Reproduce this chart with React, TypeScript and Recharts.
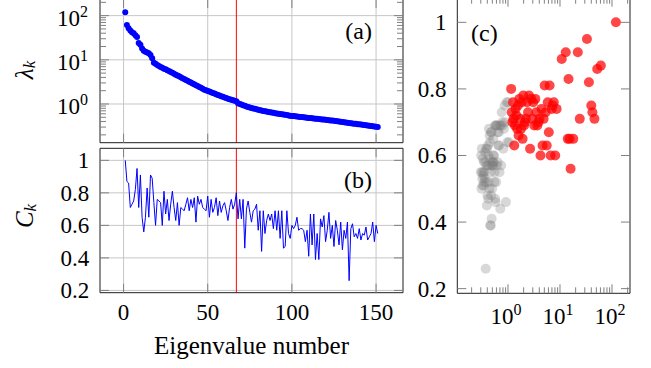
import React from "react";
import {
  ComposedChart,
  ScatterChart,
  Scatter,
  Line,
  XAxis,
  YAxis,
  CartesianGrid,
  ReferenceLine,
} from "recharts";

// ---------------- data ----------------
const lambdaValues: number[] = [
  119, 61, 52, 46, 42, 40, 36, 33, 24, 22,
  18, 16, 15.3, 14.6, 14.1, 12.9, 10.8, 8.6, 8.1, 7.6,
  7.24, 6.92, 6.61, 6.31, 6.1, 5.82, 5.56, 5.31, 5.07, 4.84,
  4.62, 4.42, 4.22, 4.03, 3.85, 3.67, 3.51, 3.35, 3.2, 3.05,
  2.92, 2.79, 2.66, 2.54, 2.43, 2.32, 2.21, 2.11, 2.04, 1.97,
  1.91, 1.84, 1.78, 1.72, 1.66, 1.6, 1.55, 1.5, 1.45, 1.4,
  1.36, 1.32, 1.28, 1.25, 1.21, 1.18, 1.15, 1.04, 1.0, 0.97,
  0.94, 0.91, 0.88, 0.86, 0.835, 0.815, 0.795, 0.776, 0.758, 0.74,
  0.724, 0.711, 0.698, 0.686, 0.673, 0.661, 0.65, 0.64, 0.63, 0.619,
  0.61, 0.6, 0.592, 0.583, 0.575, 0.568, 0.56, 0.552, 0.545, 0.537,
  0.532, 0.526, 0.521, 0.516, 0.51, 0.505, 0.5, 0.495, 0.49, 0.485,
  0.48, 0.475, 0.47, 0.466, 0.461, 0.456, 0.452, 0.447, 0.443, 0.438,
  0.434, 0.43, 0.425, 0.421, 0.417, 0.412, 0.407, 0.402, 0.397, 0.392,
  0.387, 0.382, 0.378, 0.373, 0.368, 0.364, 0.359, 0.355, 0.35, 0.346,
  0.342, 0.337, 0.333, 0.329, 0.325, 0.321, 0.317, 0.313, 0.309, 0.305,
  0.301,
];

const cValues: number[] = [
  1.0, 0.87, 0.86, 0.71, 0.73, 0.75, 0.82, 0.95, 0.71, 0.91,
  0.65, 0.56, 0.65, 0.83, 0.65, 0.91, 0.89, 0.74, 0.6, 0.76,
  0.75, 0.74, 0.6, 0.81, 0.67, 0.76, 0.63, 0.73, 0.81, 0.71,
  0.63, 0.74, 0.6, 0.71, 0.7, 0.69, 0.73, 0.77, 0.69, 0.76,
  0.71, 0.77, 0.62, 0.78, 0.73, 0.76, 0.71, 0.7, 0.69, 0.78,
  0.65, 0.76, 0.68, 0.71, 0.77, 0.66, 0.75, 0.68, 0.72, 0.74,
  0.69, 0.63, 0.71, 0.76, 0.7, 0.73, 0.8, 0.64, 0.76, 0.64,
  0.76, 0.46, 0.7, 0.75, 0.68, 0.62, 0.69, 0.7, 0.73, 0.57,
  0.69, 0.44, 0.69, 0.55, 0.63, 0.67, 0.63, 0.67, 0.58, 0.69,
  0.57, 0.69, 0.52, 0.69, 0.46, 0.47, 0.69, 0.55, 0.52, 0.6,
  0.58, 0.6, 0.65, 0.57, 0.58, 0.58, 0.57, 0.5, 0.57, 0.41,
  0.67, 0.48, 0.67, 0.39, 0.55, 0.39, 0.64, 0.59, 0.66, 0.5,
  0.57, 0.68, 0.52, 0.6, 0.47, 0.63, 0.57, 0.48, 0.62, 0.45,
  0.57, 0.52, 0.62, 0.26, 0.58, 0.61, 0.53, 0.55, 0.52, 0.58,
  0.51, 0.55, 0.54, 0.59, 0.51, 0.53, 0.55, 0.62, 0.5, 0.6,
  0.55,
];

const RED_LINE_K = 67;

const kTicks = [0, 50, 100, 150];
const kTickLabels = ["0", "50", "100", "150"];
const cTicks = [0.2, 0.4, 0.6, 0.8, 1];
const cTickLabels = ["0.2", "0.4", "0.6", "0.8", "1"];
const logMajorTicks = [1, 10, 100];
const logMajorExponents = ["0", "1", "2"];
const logMinorTicks = [
  0.2, 0.3, 0.4, 0.5, 0.6, 0.7, 0.8, 0.9,
  2, 3, 4, 5, 6, 7, 8, 9,
  20, 30, 40, 50, 60, 70, 80, 90,
  200,
];
const logAllTicks = [...logMinorTicks, ...logMajorTicks].sort((a, b) => a - b);

const rows = lambdaValues.map((lam, i) => ({ k: i + 1, lambda: lam, c: cValues[i] }));
const redRows = rows.filter((r) => r.k <= RED_LINE_K);
const grayRows = rows.filter((r) => r.k > RED_LINE_K);

// ---------------- styles ----------------
const FONT = "'Liberation Serif', 'DejaVu Serif', serif";
const FRAME = "#1e1e1e";
const GRID = "#c6c6c6";
const TICK = "#808080";
const MAJOR_LEN = 9;
const MINOR_LEN = 6;
const TICK_FS = 23;
const SUP_FS = 16;
const TXT = { fontFamily: FONT };

const K_DOMAIN: [number, number] = [-14, 166];
const LAMBDA_DOMAIN_A: [number, number] = [0.133, 238];
const C_DOMAIN: [number, number] = [0.186, 1.074];
const LAMBDA_DOMAIN_C: [number, number] = [0.106, 222];

type Side = "left" | "right" | "top" | "bottom";

function mark(side: Side, x: number, y: number, len: number) {
  let x1 = x, x2 = x, y1 = y, y2 = y;
  if (side === "left") x2 = x + len;
  if (side === "right") x1 = x - len;
  if (side === "top") y2 = y + len;
  if (side === "bottom") y1 = y - len;
  return <line x1={x1} y1={y1} x2={x2} y2={y2} stroke={TICK} strokeWidth={1} />;
}

const markTick = (side: Side, majors: number[] | null) => (p: any) => {
  const v = p.payload.value;
  const major = !majors || majors.includes(v);
  return <g>{mark(side, p.x, p.y, major ? MAJOR_LEN : MINOR_LEN)}</g>;
};

const logLeftTickA = (p: any) => {
  const v = p.payload.value;
  const idx = logMajorTicks.indexOf(v);
  const major = idx >= 0;
  return (
    <g>
      {mark("left", p.x, p.y, major ? MAJOR_LEN : MINOR_LEN)}
      {major && (
        <text x={p.x - 12} y={p.y + 10} textAnchor="end" style={TXT} fontSize={TICK_FS} fill="#000">
          10
          <tspan dy={-9} fontSize={SUP_FS}>{logMajorExponents[idx]}</tspan>
        </text>
      )}
    </g>
  );
};

const logBottomTickC = (p: any) => {
  const v = p.payload.value;
  const idx = logMajorTicks.indexOf(v);
  const major = idx >= 0;
  return (
    <g>
      {mark("bottom", p.x, p.y, major ? MAJOR_LEN : MINOR_LEN)}
      {major && (
        <text x={p.x - 2} y={p.y + 31} textAnchor="middle" style={TXT} fontSize={TICK_FS} fill="#000">
          10
          <tspan dy={-9} fontSize={SUP_FS}>{logMajorExponents[idx]}</tspan>
        </text>
      )}
    </g>
  );
};

const cLeftTick = (p: any) => {
  const idx = cTicks.indexOf(p.payload.value);
  return (
    <g>
      {mark("left", p.x, p.y, MAJOR_LEN)}
      <text x={p.x - 10.7} y={p.y + 8} textAnchor="end" style={TXT} fontSize={TICK_FS} fill="#000">
        {cTickLabels[idx]}
      </text>
    </g>
  );
};

const kBottomTick = (p: any) => {
  const idx = kTicks.indexOf(p.payload.value);
  return (
    <g>
      {mark("bottom", p.x, p.y, MAJOR_LEN)}
      <text x={p.x} y={p.y + 27.3} textAnchor="middle" style={TXT} fontSize={TICK_FS} fill="#000">
        {kTickLabels[idx]}
      </text>
    </g>
  );
};

const blueDot = (p: any) => <circle cx={p.cx} cy={p.cy} r={3} fill="#0000ff" />;
const redDot = (p: any) => <circle cx={p.cx} cy={p.cy} r={5} fill="#ff0000" fillOpacity={0.72} />;
const grayDot = (p: any) => <circle cx={p.cx} cy={p.cy} r={5} fill="#7f7f7f" fillOpacity={0.3} />;

const axisCommon = {
  allowDataOverflow: true,
  interval: 0 as const,
  tickSize: 0,
  tickMargin: 0,
  tickLine: false,
  axisLine: { stroke: FRAME, strokeWidth: 1 },
};

function PanelA() {
  return (
    <div style={{ position: "absolute", left: 0, top: -20, width: 430, height: 180 }}>
      <ComposedChart width={430} height={180} data={rows} margin={{ top: 18, right: 26, bottom: 16.3, left: 99 }}>
        <CartesianGrid xAxisId="x" yAxisId="y" stroke={GRID} strokeWidth={1} verticalValues={kTicks} horizontalValues={logMajorTicks} />
        <XAxis xAxisId="x" dataKey="k" type="number" domain={K_DOMAIN} ticks={kTicks} height={1} tick={markTick("bottom", null)} {...axisCommon} />
        <XAxis xAxisId="xt" orientation="top" dataKey="k" type="number" domain={K_DOMAIN} ticks={kTicks} height={1} tick={markTick("top", null)} {...axisCommon} />
        <YAxis yAxisId="y" type="number" scale="log" domain={LAMBDA_DOMAIN_A} ticks={logAllTicks} width={1} tick={logLeftTickA} {...axisCommon} />
        <YAxis yAxisId="yr" orientation="right" type="number" scale="log" domain={LAMBDA_DOMAIN_A} ticks={logAllTicks} width={1} tick={markTick("right", logMajorTicks)} {...axisCommon} />
        <ReferenceLine xAxisId="x" yAxisId="y" x={RED_LINE_K} stroke="#ff0000" strokeWidth={1} />
        <Scatter xAxisId="x" yAxisId="y" dataKey="lambda" shape={blueDot} isAnimationActive={false} />
      </ComposedChart>
    </div>
  );
}

function PanelB() {
  return (
    <div style={{ position: "absolute", left: 0, top: 130, width: 430, height: 238 }}>
      <ComposedChart width={430} height={238} data={rows} margin={{ top: 17.3, right: 26, bottom: 74.3, left: 99 }}>
        <CartesianGrid xAxisId="x" yAxisId="y" stroke={GRID} strokeWidth={1} verticalValues={kTicks} horizontalValues={cTicks} />
        <XAxis xAxisId="x" dataKey="k" type="number" domain={K_DOMAIN} ticks={kTicks} height={1} tick={kBottomTick} {...axisCommon} />
        <XAxis xAxisId="xt" orientation="top" dataKey="k" type="number" domain={K_DOMAIN} ticks={kTicks} height={1} tick={markTick("top", null)} {...axisCommon} />
        <YAxis yAxisId="y" type="number" domain={C_DOMAIN} ticks={cTicks} width={1} tick={cLeftTick} {...axisCommon} />
        <YAxis yAxisId="yr" orientation="right" type="number" domain={C_DOMAIN} ticks={cTicks} width={1} tick={markTick("right", null)} {...axisCommon} />
        <ReferenceLine xAxisId="x" yAxisId="y" x={RED_LINE_K} stroke="#ff0000" strokeWidth={1} />
        <Line xAxisId="x" yAxisId="y" type="linear" dataKey="c" stroke="#0000ff" strokeWidth={1} dot={false} isAnimationActive={false} />
      </ComposedChart>
    </div>
  );
}

function PanelC() {
  return (
    <div style={{ position: "absolute", left: 410, top: -10, width: 241, height: 378 }}>
      <ScatterChart width={241} height={378} margin={{ top: 6.7, right: 20, bottom: 73.7, left: 46.3 }}>
        <XAxis xAxisId="x" dataKey="lambda" type="number" scale="log" domain={LAMBDA_DOMAIN_C} ticks={logAllTicks} height={1} tick={logBottomTickC} {...axisCommon} />
        <XAxis xAxisId="xt" orientation="top" dataKey="lambda" type="number" scale="log" domain={LAMBDA_DOMAIN_C} ticks={logAllTicks} height={1} tick={markTick("top", logMajorTicks)} {...axisCommon} />
        <YAxis yAxisId="y" dataKey="c" type="number" domain={C_DOMAIN} ticks={cTicks} width={1} tick={cLeftTick} {...axisCommon} />
        <YAxis yAxisId="yr" orientation="right" dataKey="c" type="number" domain={C_DOMAIN} ticks={cTicks} width={1} tick={markTick("right", null)} {...axisCommon} />
        <Scatter xAxisId="x" yAxisId="y" data={grayRows} shape={grayDot} isAnimationActive={false} />
        <Scatter xAxisId="x" yAxisId="y" data={redRows} shape={redDot} isAnimationActive={false} />
      </ScatterChart>
    </div>
  );
}

function Labels() {
  return (
    <svg width={651} height={368} style={{ position: "absolute", left: 0, top: 0, pointerEvents: "none" }}>
      <g style={TXT} fill="#000">
        <text x={372} y={39} textAnchor="end" fontSize={24}>(a)</text>
        <text x={372} y={188} textAnchor="end" fontSize={24}>(b)</text>
        <text x={471} y={41} textAnchor="start" fontSize={24}>(c)</text>
        <text x={251.5} y={354} textAnchor="middle" fontSize={25}>Eigenvalue number</text>
        <text transform="translate(33, 70) rotate(-90)" textAnchor="middle" fontSize={25} fontStyle="italic">
          λ<tspan dy={2} fontSize={17}>k</tspan>
        </text>
        <text transform="translate(33, 216) rotate(-90)" textAnchor="middle" fontSize={25} fontStyle="italic">
          C<tspan dy={3} fontSize={17}>k</tspan>
        </text>
      </g>
    </svg>
  );
}

export default function App() {
  return (
    <div style={{ position: "absolute", left: 0, top: 0, width: 651, height: 368, overflow: "hidden", background: "#fff", fontFamily: FONT }}>
      <PanelA />
      <PanelB />
      <PanelC />
      <Labels />
    </div>
  );
}
